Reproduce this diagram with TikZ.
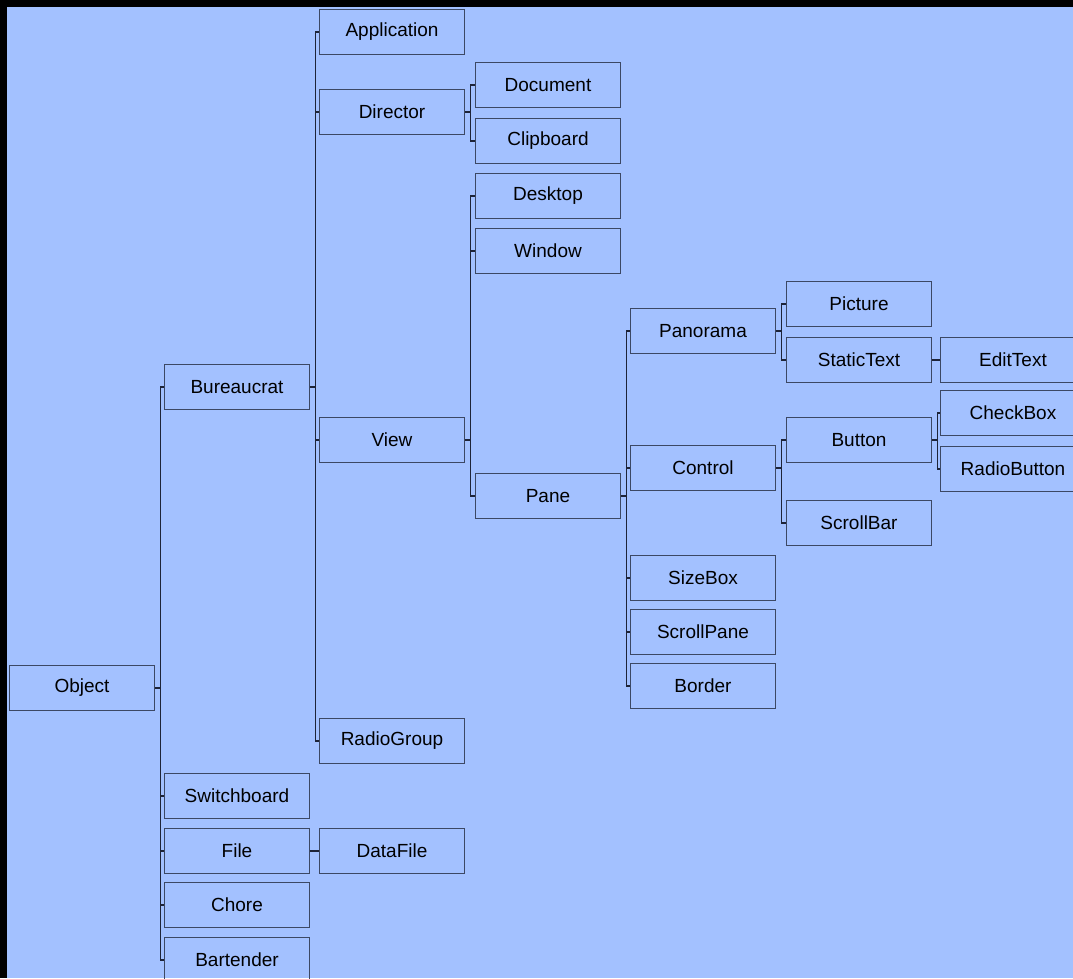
\documentclass[tikz,border=0pt]{standalone}
\usepackage{fontspec}
\setmainfont{Liberation Sans}
\definecolor{paneBlue}{RGB}{163,193,255}
\definecolor{boxLine}{RGB}{60,72,100}
\definecolor{wireLine}{RGB}{30,36,56}

\begin{document}
\begin{tikzpicture}
[x=1pt,y=-1pt,
  boxDecorate/.style={shape=rectangle,draw=boxLine,line width=1.8pt,
    minimum width=145pt,minimum height=45pt,inner sep=0pt,
    font=\fontsize{19}{21}\selectfont},%
  lineDecorate/.style={-,draw=wireLine,line width=1.4pt,
    to path={-- ++(5,0) |- (\tikztotarget)}}]
\useasboundingbox (0,0) rectangle (1073,978);
\clip (0,0) rectangle (1073,978);
\fill[black] (0,0) rectangle (1073,978);
\fill[paneBlue] (7,7) rectangle (1073,978);
%% classes
\foreach \nodename/\x/\y/\txt in {obj/82/688/Object, bur/237/387/Bureaucrat,
  swi/237/796/Switchboard, fil/237/851/File, cho/237/905/Chore,
  bar/237/960/Bartender, app/392/32/Application, dir/392/112/Director,
  vie/392/440/View, rad/392/741/RadioGroup, dat/392/851/DataFile,
  doc/548/85/Document, cli/548/141/Clipboard, des/548/196/Desktop,
  win/548/251/Window, pan/548/496/Pane, pnr/703/331/Panorama,
  con/703/468/Control, siz/703/578/SizeBox, scp/703/632/ScrollPane,
  bor/703/686/Border, pic/859/304/Picture, sta/859/360/StaticText,
  but/859/440/Button, scb/859/523/ScrollBar, edi/1013/360/EditText,
  chk/1013/413/CheckBox, rbt/1013/469/RadioButton}
{
  \node (\nodename) at (\x,\y) [boxDecorate] {\txt};
}
%% inheritance
\path
\foreach \startnode/\endnode in {obj/bur, obj/swi, obj/fil, obj/cho, obj/bar,
  bur/app, bur/dir, bur/vie, bur/rad, dir/doc, dir/cli,
  vie/des, vie/win, vie/pan, pan/pnr, pan/con, pan/siz, pan/scp, pan/bor,
  pnr/pic, pnr/sta, con/but, con/scb, but/chk, but/rbt}
{
  (\startnode.east) edge[lineDecorate] (\endnode.west)
};
\draw[draw=wireLine,line width=1.4pt] (fil.east) -- (dat.west);
\draw[draw=wireLine,line width=1.4pt] (sta.east) -- (edi.west);
\end{tikzpicture}
\end{document}
